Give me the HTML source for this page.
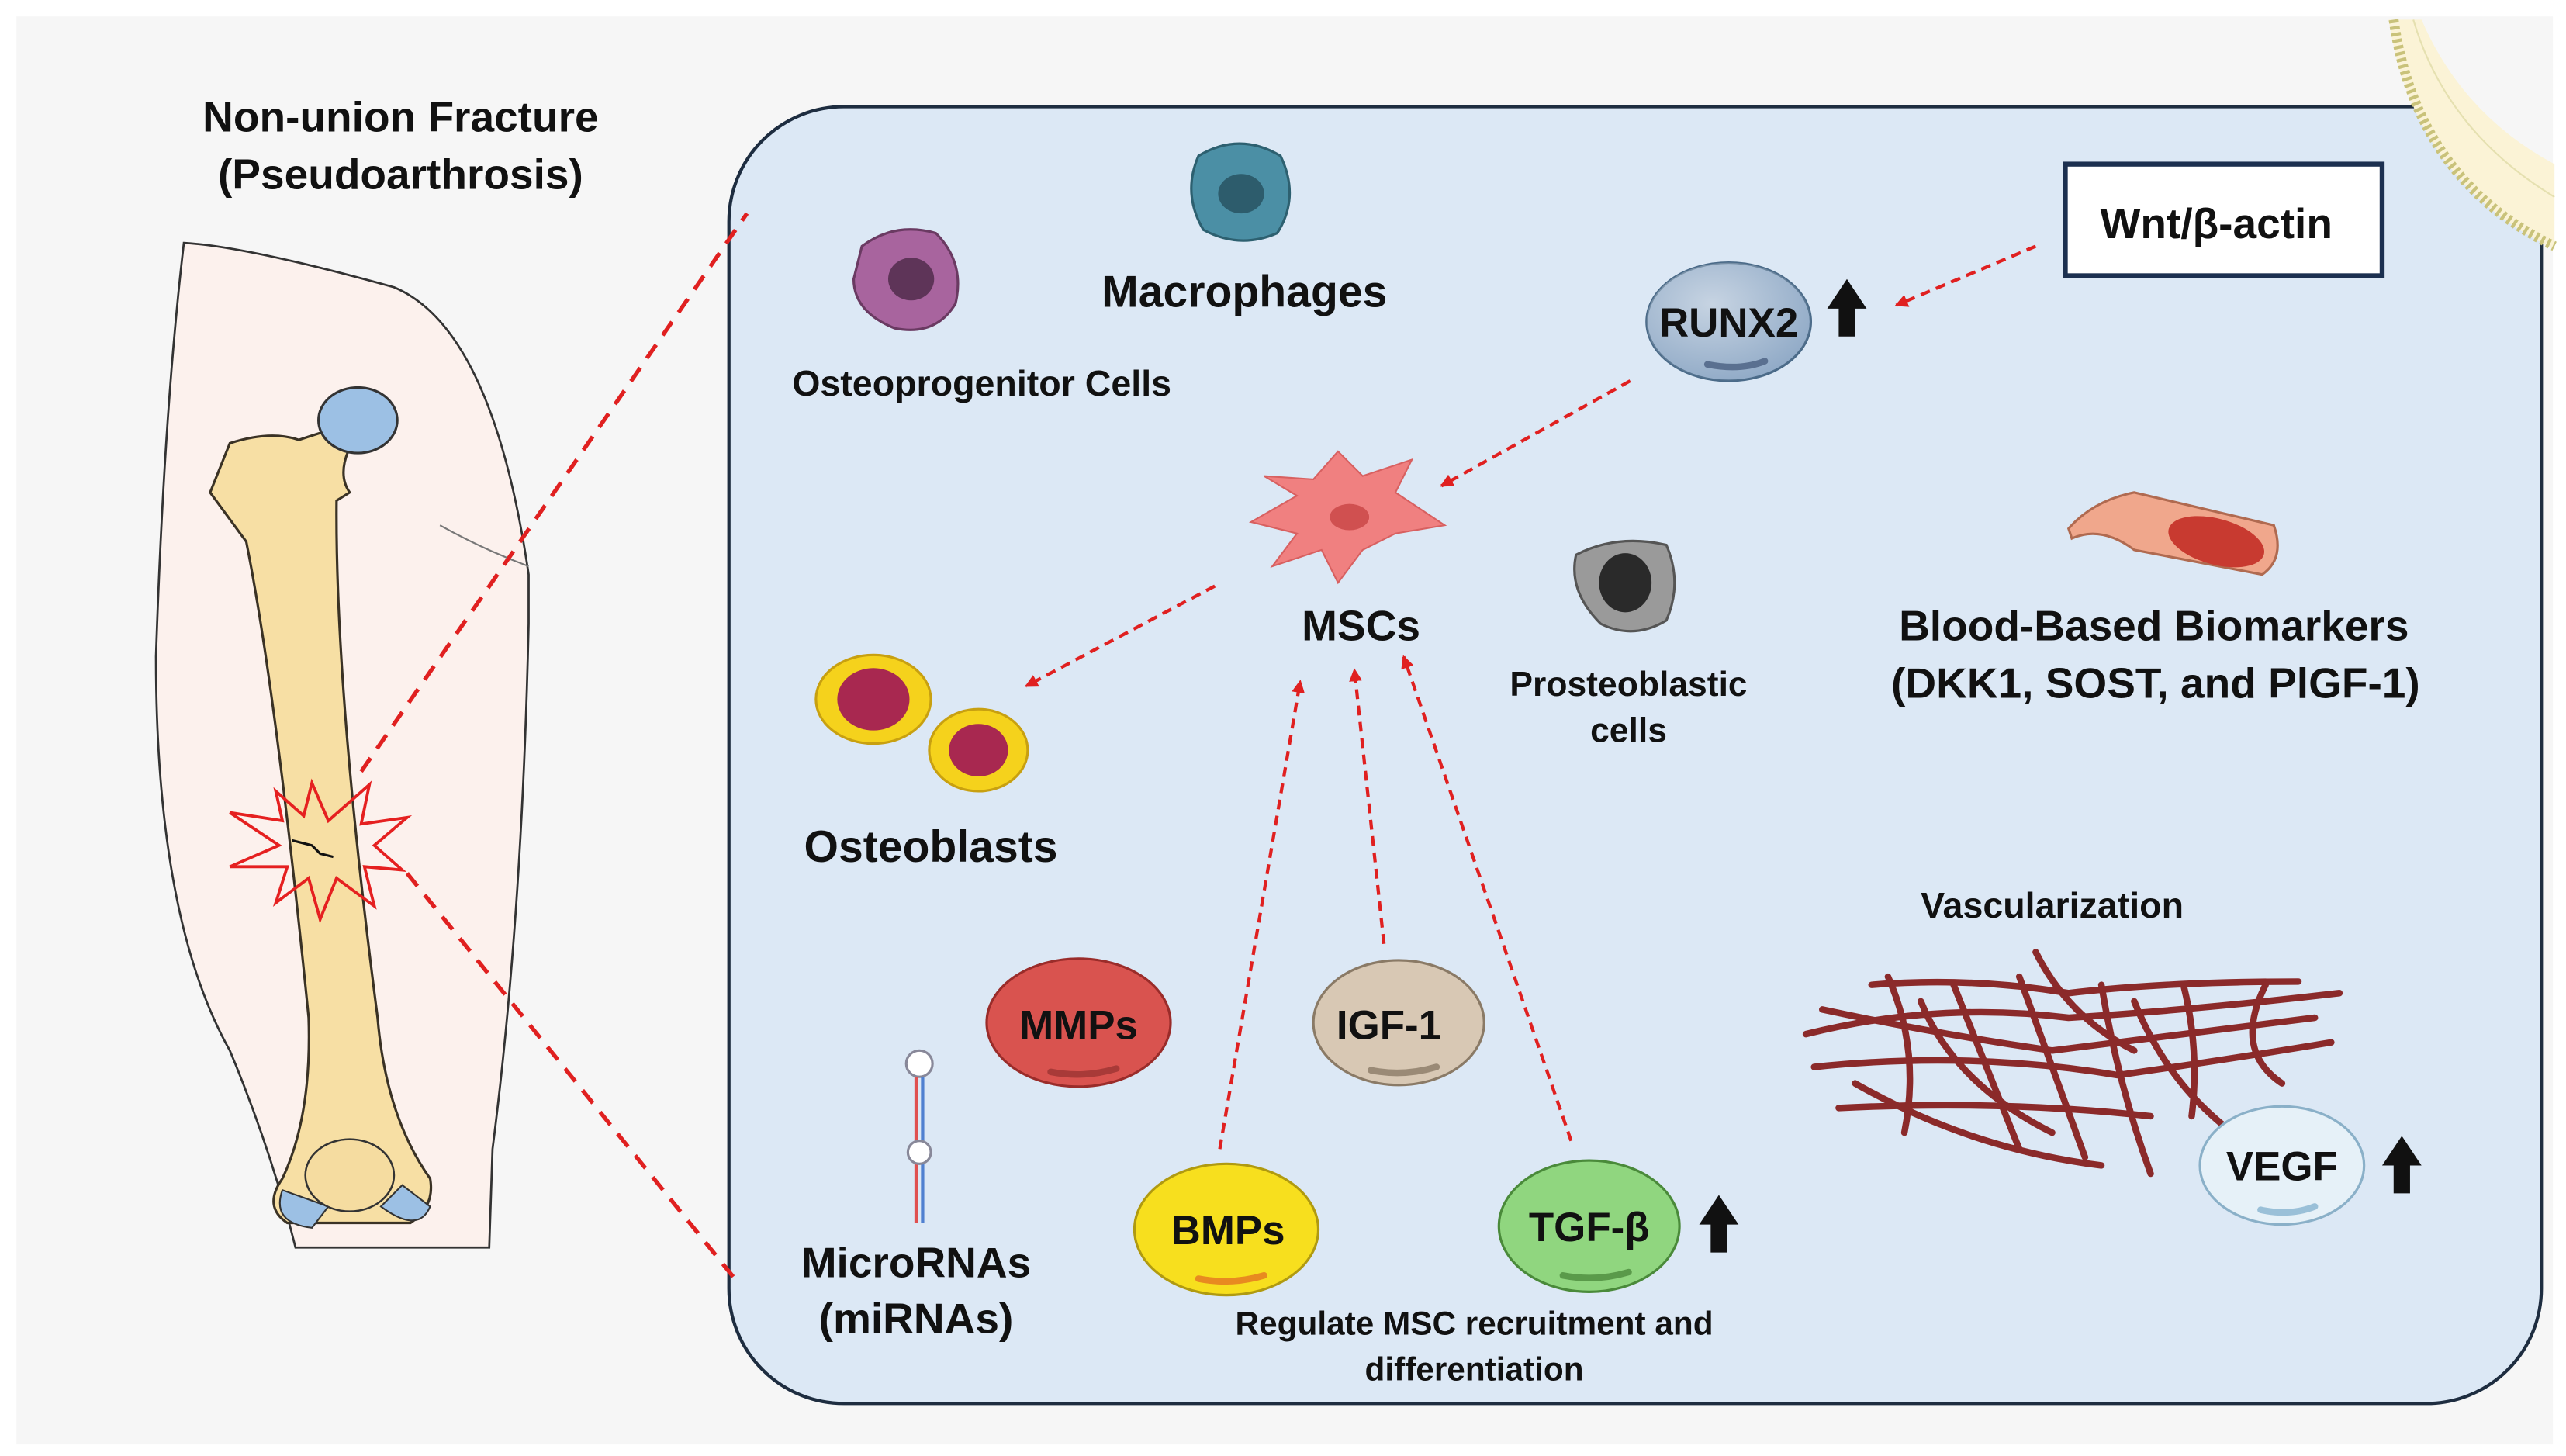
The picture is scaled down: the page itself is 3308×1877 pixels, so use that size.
<!DOCTYPE html>
<html><head><meta charset="utf-8">
<style>
html,body{margin:0;padding:0;background:#fff;}
svg{display:block;}
text{font-family:"Liberation Sans",sans-serif;font-weight:bold;fill:#111;text-anchor:middle;}
</style></head><body>
<svg width="3308" height="1877" viewBox="0 0 1563 887" preserveAspectRatio="none" xmlns="http://www.w3.org/2000/svg">
<defs>
<marker id="ah" markerWidth="8" markerHeight="8" refX="7" refY="4" orient="auto" markerUnits="userSpaceOnUse">
<path d="M0,0 L8,4 L0,8 z" fill="#e02020"/></marker>
<radialGradient id="g1" cx="40%" cy="35%" r="70%"><stop offset="0" stop-color="#fff" stop-opacity=".5"/><stop offset="1" stop-color="#fff" stop-opacity="0"/></radialGradient>
</defs>
<rect x="0" y="0" width="1563" height="887" fill="#fff"/>
<rect x="10" y="10" width="1545" height="870" fill="#f6f6f6"/>
<!-- main box -->
<rect x="444" y="65" width="1104" height="790" rx="70" fill="#dce8f5" stroke="#1e2d40" stroke-width="2"/>
<!-- corner membrane crescent -->
<path d="M1455,12 Q1470,110 1556,152 L1556,100 Q1500,70 1475,12 z" fill="#fbf3d6"/>
<path d="M1458,12 Q1472,110 1556,150" fill="none" stroke="#c9c27a" stroke-width="6" stroke-dasharray="2 2"/>
<path d="M1470,12 Q1490,80 1556,120" fill="none" stroke="#e5e0b0" stroke-width="1"/>
<!-- leg -->
<path d="M112,148 Q150,150 240,175 Q300,200 322,350 L322,380 Q318,560 300,700 L298,760 L180,760 Q165,700 140,640 Q95,560 95,400 Q100,250 112,148 z" fill="#fcf1ed" stroke="#333" stroke-width="1.3"/>
<path d="M268,320 Q295,335 322,345" fill="none" stroke="#777" stroke-width="1"/>
<!-- bone -->
<path d="M128,300 L140,270 Q165,262 182,268 Q200,262 208,260 L212,275 Q206,290 213,300 L205,305 Q204,420 230,620 Q235,680 262,718 Q265,735 250,745 L175,745 Q160,735 172,718 Q190,680 188,620 Q168,420 150,330 z" fill="#f7dfa4" stroke="#3a3225" stroke-width="1.5"/>
<ellipse cx="218" cy="256" rx="24" ry="20" fill="#9cc0e4" stroke="#333" stroke-width="1.5"/>
<path d="M172,725 Q165,745 190,748 L200,735 z" fill="#9cc0e4" stroke="#333" stroke-width="1"/>
<path d="M232,735 Q255,752 262,735 L245,722 z" fill="#9cc0e4" stroke="#333" stroke-width="1"/>
<ellipse cx="213" cy="716" rx="27" ry="22" fill="#f5dca0" stroke="#333" stroke-width="1.2"/>
<!-- starburst -->
<polygon points="190,477 200,500 225,478 220,502 248,498 228,515 245,530 222,528 228,552 205,535 195,560 188,535 168,550 175,528 140,528 170,515 140,495 172,500 168,482 185,497" fill="none" stroke="#e52020" stroke-width="1.8"/>
<path d="M178,512 L190,515 L195,520 L203,522" stroke="#111" stroke-width="1.5" fill="none"/>
<!-- connector dashes -->
<line x1="220" y1="470" x2="455" y2="130" stroke="#e02020" stroke-width="2.5" stroke-dasharray="10 7"/>
<line x1="248" y1="532" x2="450" y2="782" stroke="#e02020" stroke-width="2.5" stroke-dasharray="10 7"/>
<text x="244" y="80" font-size="26">Non-union Fracture</text>
<text x="244" y="115" font-size="26">(Pseudoarthrosis)</text>
<!-- osteoprogenitor -->
<path d="M525,150 Q545,135 570,142 Q588,160 582,185 Q570,205 545,200 Q520,190 520,170 z" fill="#a8649e" stroke="#6a3a62" stroke-width="1.5"/>
<ellipse cx="555" cy="170" rx="14" ry="13" fill="#5e3458"/>
<text x="598" y="241" font-size="22">Osteoprogenitor Cells</text>
<!-- macrophage -->
<path d="M730,95 Q755,80 780,95 Q792,120 778,142 Q755,152 733,140 Q720,118 730,95 z" fill="#4b8fa5" stroke="#2d6070" stroke-width="1.5"/>
<ellipse cx="756" cy="118" rx="14" ry="12" fill="#2d5c6c"/>
<text x="758" y="187" font-size="27">Macrophages</text>
<!-- Wnt box -->
<rect x="1258" y="100" width="193" height="68" fill="#fff" stroke="#1c3050" stroke-width="3"/>
<text x="1350" y="145" font-size="26">Wnt/β-actin</text>
<!-- RUNX2 -->
<ellipse cx="1053" cy="196" rx="50" ry="36" fill="#8fa9c6" stroke="#4a6a88" stroke-width="1.5"/>
<ellipse cx="1053" cy="196" rx="50" ry="36" fill="url(#g1)"/>
<path d="M1040,222 Q1060,226 1075,220" stroke="#5a7090" stroke-width="4" fill="none" stroke-linecap="round"/>
<text x="1053" y="205" font-size="25">RUNX2</text>
<path d="M1120,205 L1120,188 L1113,188 L1125,170 L1137,188 L1130,188 L1130,205 z" fill="#111"/>
<!-- arrows -->
<g stroke="#e02020" stroke-width="2" stroke-dasharray="6 4" fill="none" marker-end="url(#ah)">
<line x1="1240" y1="150" x2="1155" y2="186"/>
<line x1="993" y1="232" x2="878" y2="296"/>
<line x1="740" y1="357" x2="625" y2="418"/>
<line x1="743" y1="700" x2="792" y2="415"/>
<line x1="843" y1="575" x2="825" y2="408"/>
<line x1="957" y1="695" x2="855" y2="400"/>
</g>
<!-- MSC -->
<polygon points="790,302 770,290 800,292 815,275 830,290 860,280 850,300 880,320 850,325 830,335 815,355 805,335 775,345 790,325 762,318" fill="#f08080" stroke="#d86060" stroke-width="1"/>
<ellipse cx="822" cy="315" rx="12" ry="8" fill="#d05050"/>
<text x="829" y="390" font-size="26">MSCs</text>
<!-- prosteoblastic -->
<path d="M960,338 Q985,325 1015,332 Q1025,355 1015,378 Q995,390 975,380 Q955,360 960,338 z" fill="#9a9a9a" stroke="#555" stroke-width="1.5"/>
<ellipse cx="990" cy="355" rx="16" ry="18" fill="#2a2a2a"/>
<text x="992" y="424" font-size="21">Prosteoblastic</text>
<text x="992" y="452" font-size="21">cells</text>
<!-- blood vessel -->
<path d="M1260,322 Q1275,305 1300,300 L1385,320 Q1392,340 1378,350 L1300,335 Q1280,320 1262,328 z" fill="#f0a78c" stroke="#b06a50" stroke-width="1.5"/>
<ellipse cx="1350" cy="330" rx="30" ry="14" fill="#c83a30" transform="rotate(15 1350 330)"/>
<text x="1312" y="390" font-size="26">Blood-Based Biomarkers</text>
<text x="1313" y="425" font-size="26">(DKK1, SOST, and PlGF-1)</text>
<!-- osteoblasts -->
<ellipse cx="532" cy="426" rx="35" ry="27" fill="#f5d21c" stroke="#c8a010" stroke-width="1.5"/>
<ellipse cx="532" cy="426" rx="22" ry="19" fill="#a82850"/>
<ellipse cx="596" cy="457" rx="30" ry="25" fill="#f5d21c" stroke="#c8a010" stroke-width="1.5"/>
<ellipse cx="596" cy="457" rx="18" ry="16" fill="#a82850"/>
<text x="567" y="525" font-size="27">Osteoblasts</text>
<!-- vascularization -->
<text x="1250" y="559" font-size="22">Vascularization</text>
<g stroke="#8b2a2a" stroke-width="4" fill="none" stroke-linecap="round">
<path d="M1100,630 Q1180,610 1260,620 Q1340,615 1425,605"/>
<path d="M1105,650 Q1200,640 1290,655 Q1360,645 1420,635"/>
<path d="M1120,675 Q1220,670 1310,680"/>
<path d="M1140,600 Q1200,595 1260,605 Q1320,598 1400,598"/>
<path d="M1110,615 Q1180,630 1250,640 Q1330,630 1410,620"/>
<path d="M1150,595 Q1170,640 1160,690"/>
<path d="M1190,600 Q1210,650 1230,700"/>
<path d="M1230,595 Q1250,650 1270,705"/>
<path d="M1280,600 Q1290,660 1310,715"/>
<path d="M1330,600 Q1340,640 1335,680"/>
<path d="M1380,600 Q1360,640 1390,660"/>
<path d="M1130,660 Q1200,700 1280,710"/>
<path d="M1240,580 Q1260,620 1300,640"/>
<path d="M1170,610 Q1190,660 1250,690"/>
<path d="M1300,610 Q1320,660 1360,690"/>
</g>
<!-- VEGF -->
<ellipse cx="1390" cy="710" rx="50" ry="36" fill="#e6f1f8" stroke="#8ab0c8" stroke-width="1.5"/>
<path d="M1377,737 Q1395,741 1410,735" stroke="#9ac0d8" stroke-width="4" fill="none" stroke-linecap="round"/>
<text x="1390" y="719" font-size="25">VEGF</text>
<path d="M1458,727 L1458,710 L1451,710 L1463,692 L1475,710 L1468,710 L1468,727 z" fill="#111"/>
<!-- MMPs -->
<ellipse cx="657" cy="623" rx="56" ry="39" fill="#d9534f" stroke="#9a2c2a" stroke-width="1.5"/>
<path d="M640,653 Q660,657 680,651" stroke="#a83a38" stroke-width="4" fill="none" stroke-linecap="round"/>
<text x="657" y="633" font-size="25">MMPs</text>
<!-- IGF-1 -->
<ellipse cx="852" cy="623" rx="52" ry="38" fill="#d8c8b4" stroke="#8a7a66" stroke-width="1.5"/>
<path d="M835,652 Q855,656 875,650" stroke="#9a8a76" stroke-width="4" fill="none" stroke-linecap="round"/>
<text x="846" y="633" font-size="25">IGF-1</text>
<!-- BMPs -->
<ellipse cx="747" cy="749" rx="56" ry="40" fill="#f7df1e" stroke="#b09a10" stroke-width="1.5"/>
<path d="M730,779 Q750,783 770,777" stroke="#e88a20" stroke-width="4" fill="none" stroke-linecap="round"/>
<text x="748" y="758" font-size="25">BMPs</text>
<!-- TGF-b -->
<ellipse cx="968" cy="747" rx="55" ry="40" fill="#90d67f" stroke="#4a8a3a" stroke-width="1.5"/>
<path d="M952,777 Q972,781 992,775" stroke="#5a9a4a" stroke-width="4" fill="none" stroke-linecap="round"/>
<text x="968" y="756" font-size="25">TGF-β</text>
<path d="M1042,763 L1042,746 L1035,746 L1047,728 L1059,746 L1052,746 L1052,763 z" fill="#111"/>
<!-- microRNA -->
<circle cx="560" cy="648" r="8" fill="#fff" stroke="#889" stroke-width="1.5"/>
<line x1="558" y1="656" x2="558" y2="745" stroke="#e05050" stroke-width="2"/>
<line x1="562" y1="656" x2="562" y2="745" stroke="#5080d0" stroke-width="2"/>
<circle cx="560" cy="702" r="7" fill="#fff" stroke="#889" stroke-width="1.5"/>
<text x="558" y="778" font-size="26">MicroRNAs</text>
<text x="558" y="812" font-size="26">(miRNAs)</text>
<text x="898" y="813" font-size="20">Regulate MSC recruitment and</text>
<text x="898" y="841" font-size="20">differentiation</text>
</svg>
</body></html>
